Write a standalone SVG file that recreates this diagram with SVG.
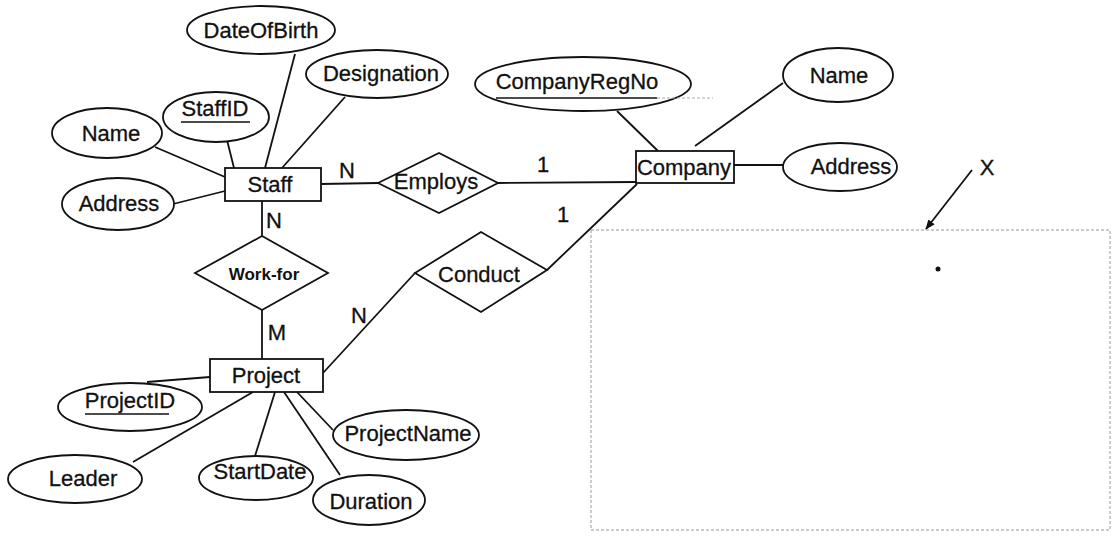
<svg xmlns="http://www.w3.org/2000/svg" width="1112" height="540" viewBox="0 0 1112 540">
<style>
.e{fill:#fff;stroke:#111;stroke-width:1.8}
.r{fill:#fff;stroke:#111;stroke-width:1.8}
.d{fill:#fff;stroke:#111;stroke-width:1.8}
.t{font-family:"Liberation Sans",Arial,sans-serif;font-size:22px;fill:#111;stroke:#111;stroke-width:0.3;text-anchor:middle}
.b{font-family:"Liberation Sans",Arial,sans-serif;font-size:17px;font-weight:bold;fill:#111;text-anchor:middle}
.c{stroke:#111;stroke-width:1.8;fill:none}
.u{stroke:#111;stroke-width:1.4}
</style>
<defs>
<marker id="ah" markerWidth="10" markerHeight="10" refX="9" refY="5" orient="auto" markerUnits="userSpaceOnUse">
<path d="M0,1 L10,5 L0,9 z" fill="#111"/>
</marker>
</defs>
<rect width="1112" height="540" fill="#fff"/>
<g id="connectors">
<line class="c" x1="155" y1="147" x2="225" y2="177"/>
<line class="c" x1="173" y1="204" x2="225" y2="191"/>
<line class="c" x1="227" y1="140" x2="234" y2="168"/>
<line class="c" x1="295" y1="54" x2="265" y2="168"/>
<line class="c" x1="345" y1="97" x2="282" y2="168"/>
<line class="c" x1="321" y1="184" x2="378" y2="183"/>
<line class="c" x1="498" y1="183" x2="636" y2="182"/>
<line class="c" x1="617" y1="111" x2="658" y2="151"/>
<line class="c" x1="783" y1="83" x2="695" y2="146"/>
<line class="c" x1="733" y1="165" x2="783" y2="165"/>
<line class="c" x1="637" y1="184" x2="547" y2="270"/>
<line class="c" x1="415" y1="273" x2="323" y2="373"/>
<line class="c" x1="262" y1="201" x2="262" y2="236"/>
<line class="c" x1="262" y1="310" x2="262" y2="359"/>
<line class="c" x1="147" y1="382" x2="210" y2="377"/>
<line class="c" x1="133" y1="462" x2="253" y2="392"/>
<line class="c" x1="255" y1="456" x2="275" y2="392"/>
<line class="c" x1="340" y1="475" x2="284" y2="392"/>
<line class="c" x1="333" y1="430" x2="297" y2="392"/>
<line class="c" x1="972" y1="170" x2="926" y2="229" marker-end="url(#ah)"/>
</g>
<g id="labels">
<text class="t" x="347" y="178">N</text>
<text class="t" x="274" y="228">N</text>
<text class="t" x="543" y="172" font-size="18">1</text>
<text class="t" x="563" y="222" font-size="18">1</text>
<text class="t" x="277" y="340">M</text>
<text class="t" x="359" y="323">N</text>
<text class="t" x="987" y="175" font-size="22">X</text>
</g>
<g id="Staff"><rect class="r" x="225" y="168" width="96" height="33"/><text class="t" x="270" y="192">Staff</text></g>
<g id="DateOfBirth"><ellipse class="e" cx="261" cy="30" rx="74" ry="24"/><text class="t" x="261" y="38">DateOfBirth</text></g>
<g id="Designation"><ellipse class="e" cx="377" cy="74" rx="71" ry="24"/><text class="t" x="381" y="81">Designation</text></g>
<g id="StaffID"><ellipse class="e" cx="216" cy="117" rx="53" ry="25"/><text class="t" x="215" y="116">StaffID</text><line class="u" x1="181" y1="122" x2="250" y2="122"/></g>
<g id="StaffName"><ellipse class="e" cx="107" cy="133" rx="55" ry="25"/><text class="t" x="111" y="141">Name</text></g>
<g id="StaffAddress"><ellipse class="e" cx="118" cy="204" rx="56" ry="26"/><text class="t" x="119" y="211">Address</text></g>
<g id="Employs"><polygon class="d" points="378,183 439,153 498,183 439,213"/><text class="t" x="436" y="189">Employs</text></g>
<g id="Company"><rect class="r" x="636" y="151" width="98" height="32"/><text class="t" x="684" y="175">Company</text></g>
<g id="CompanyRegNo"><ellipse class="e" cx="583" cy="84" rx="108" ry="27"/><text class="t" x="577" y="89">CompanyRegNo</text><line class="u" x1="496" y1="98" x2="657" y2="98"/><line x1="657" y1="98" x2="713" y2="98" stroke="#aaa" stroke-width="1" stroke-dasharray="3,2"/></g>
<g id="CompanyName"><ellipse class="e" cx="838" cy="75" rx="55" ry="27"/><text class="t" x="839" y="83">Name</text></g>
<g id="CompanyAddress"><ellipse class="e" cx="840" cy="167" rx="57" ry="24"/><text class="t" x="851" y="174">Address</text></g>
<g id="Conduct"><polygon class="d" points="415,273 481,232 547,270 481,312"/><text class="t" x="479" y="282">Conduct</text></g>
<g id="WorkFor"><polygon class="d" points="195,273 262,236 328,273 262,310"/><text class="b" x="264" y="280">Work-for</text></g>
<g id="Project"><rect class="r" x="210" y="359" width="113" height="33"/><text class="t" x="266" y="383">Project</text></g>
<g id="ProjectID"><ellipse class="e" cx="130" cy="407" rx="72" ry="24"/><text class="t" x="130" y="408">ProjectID</text><line class="u" x1="85" y1="414" x2="169" y2="414"/></g>
<g id="Leader"><ellipse class="e" cx="75" cy="479" rx="67" ry="24"/><text class="t" x="83" y="486">Leader</text></g>
<g id="StartDate"><ellipse class="e" cx="256" cy="478" rx="57" ry="22"/><text class="t" x="260" y="479">StartDate</text></g>
<g id="Duration"><ellipse class="e" cx="369" cy="500" rx="56" ry="25"/><text class="t" x="371" y="509">Duration</text></g>
<g id="ProjectName"><ellipse class="e" cx="406" cy="435" rx="73" ry="25"/><text class="t" x="408" y="441">ProjectName</text></g>
<g id="X-area">
<rect x="591" y="230" width="519" height="300" fill="none" stroke="#999" stroke-width="1" stroke-dasharray="3,2"/>
<circle cx="938" cy="269" r="2.5" fill="#111"/>
</g>
</svg>
